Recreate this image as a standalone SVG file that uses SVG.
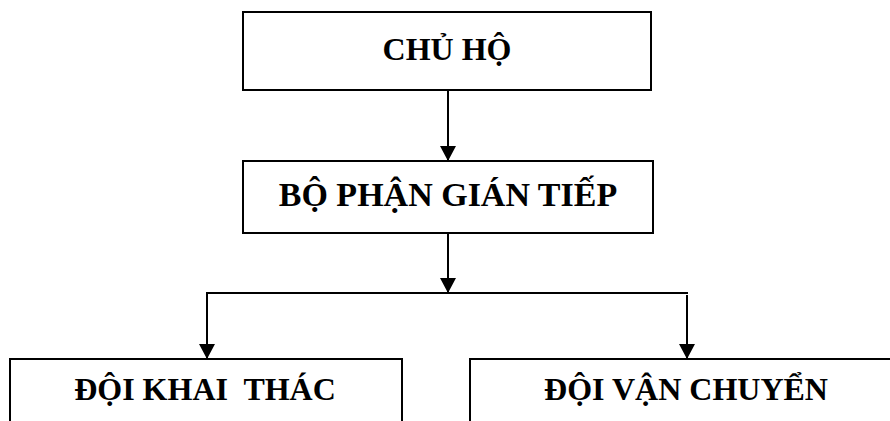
<svg xmlns="http://www.w3.org/2000/svg" width="890" height="421" viewBox="0 0 890 421">
<style>
.box{fill:#fff;stroke:#000;stroke-width:2}
.lbl{font-family:"Liberation Serif","Times New Roman",serif;font-weight:bold;font-size:32px;fill:#000;text-anchor:middle;white-space:pre}
.big{font-size:34px}
.ln{fill:none;stroke:#000;stroke-width:2}
</style>
<defs>
<marker id="ah" markerUnits="userSpaceOnUse" markerWidth="16" markerHeight="18" refX="15" refY="8" orient="auto">
<path d="M0,0 L15,8 L0,16 Z" fill="#000"/>
</marker>
</defs>
<rect width="890" height="421" fill="#fff"/>
<g id="connectors">
<line class="ln" x1="448" y1="90" x2="448" y2="161" marker-end="url(#ah)"/>
<line class="ln" x1="448" y1="233" x2="448" y2="293" marker-end="url(#ah)"/>
<polyline class="ln" points="207,359 207,293 688,293"/>
<line class="ln" x1="207" y1="300" x2="207" y2="359" marker-end="url(#ah)"/>
<line class="ln" x1="687" y1="295" x2="687" y2="359" marker-end="url(#ah)"/>
</g>
<g id="chu-ho">
<rect class="box" x="243" y="12" width="408" height="78"/>
<text class="lbl" x="447" y="60">CHỦ HỘ</text>
</g>
<g id="bo-phan-gian-tiep">
<rect class="box" x="243" y="161" width="410" height="72"/>
<text class="lbl big" x="448" y="206">BỘ PHẬN GIÁN TIẾP</text>
</g>
<g id="doi-khai-thac">
<rect class="box" x="10" y="359" width="392" height="80"/>
<text class="lbl" x="205" y="400" xml:space="preserve">ĐỘI KHAI  THÁC</text>
</g>
<g id="doi-van-chuyen">
<rect class="box" x="470" y="359" width="440" height="80"/>
<text class="lbl" x="686" y="400">ĐỘI VẬN CHUYỂN</text>
</g>
</svg>
